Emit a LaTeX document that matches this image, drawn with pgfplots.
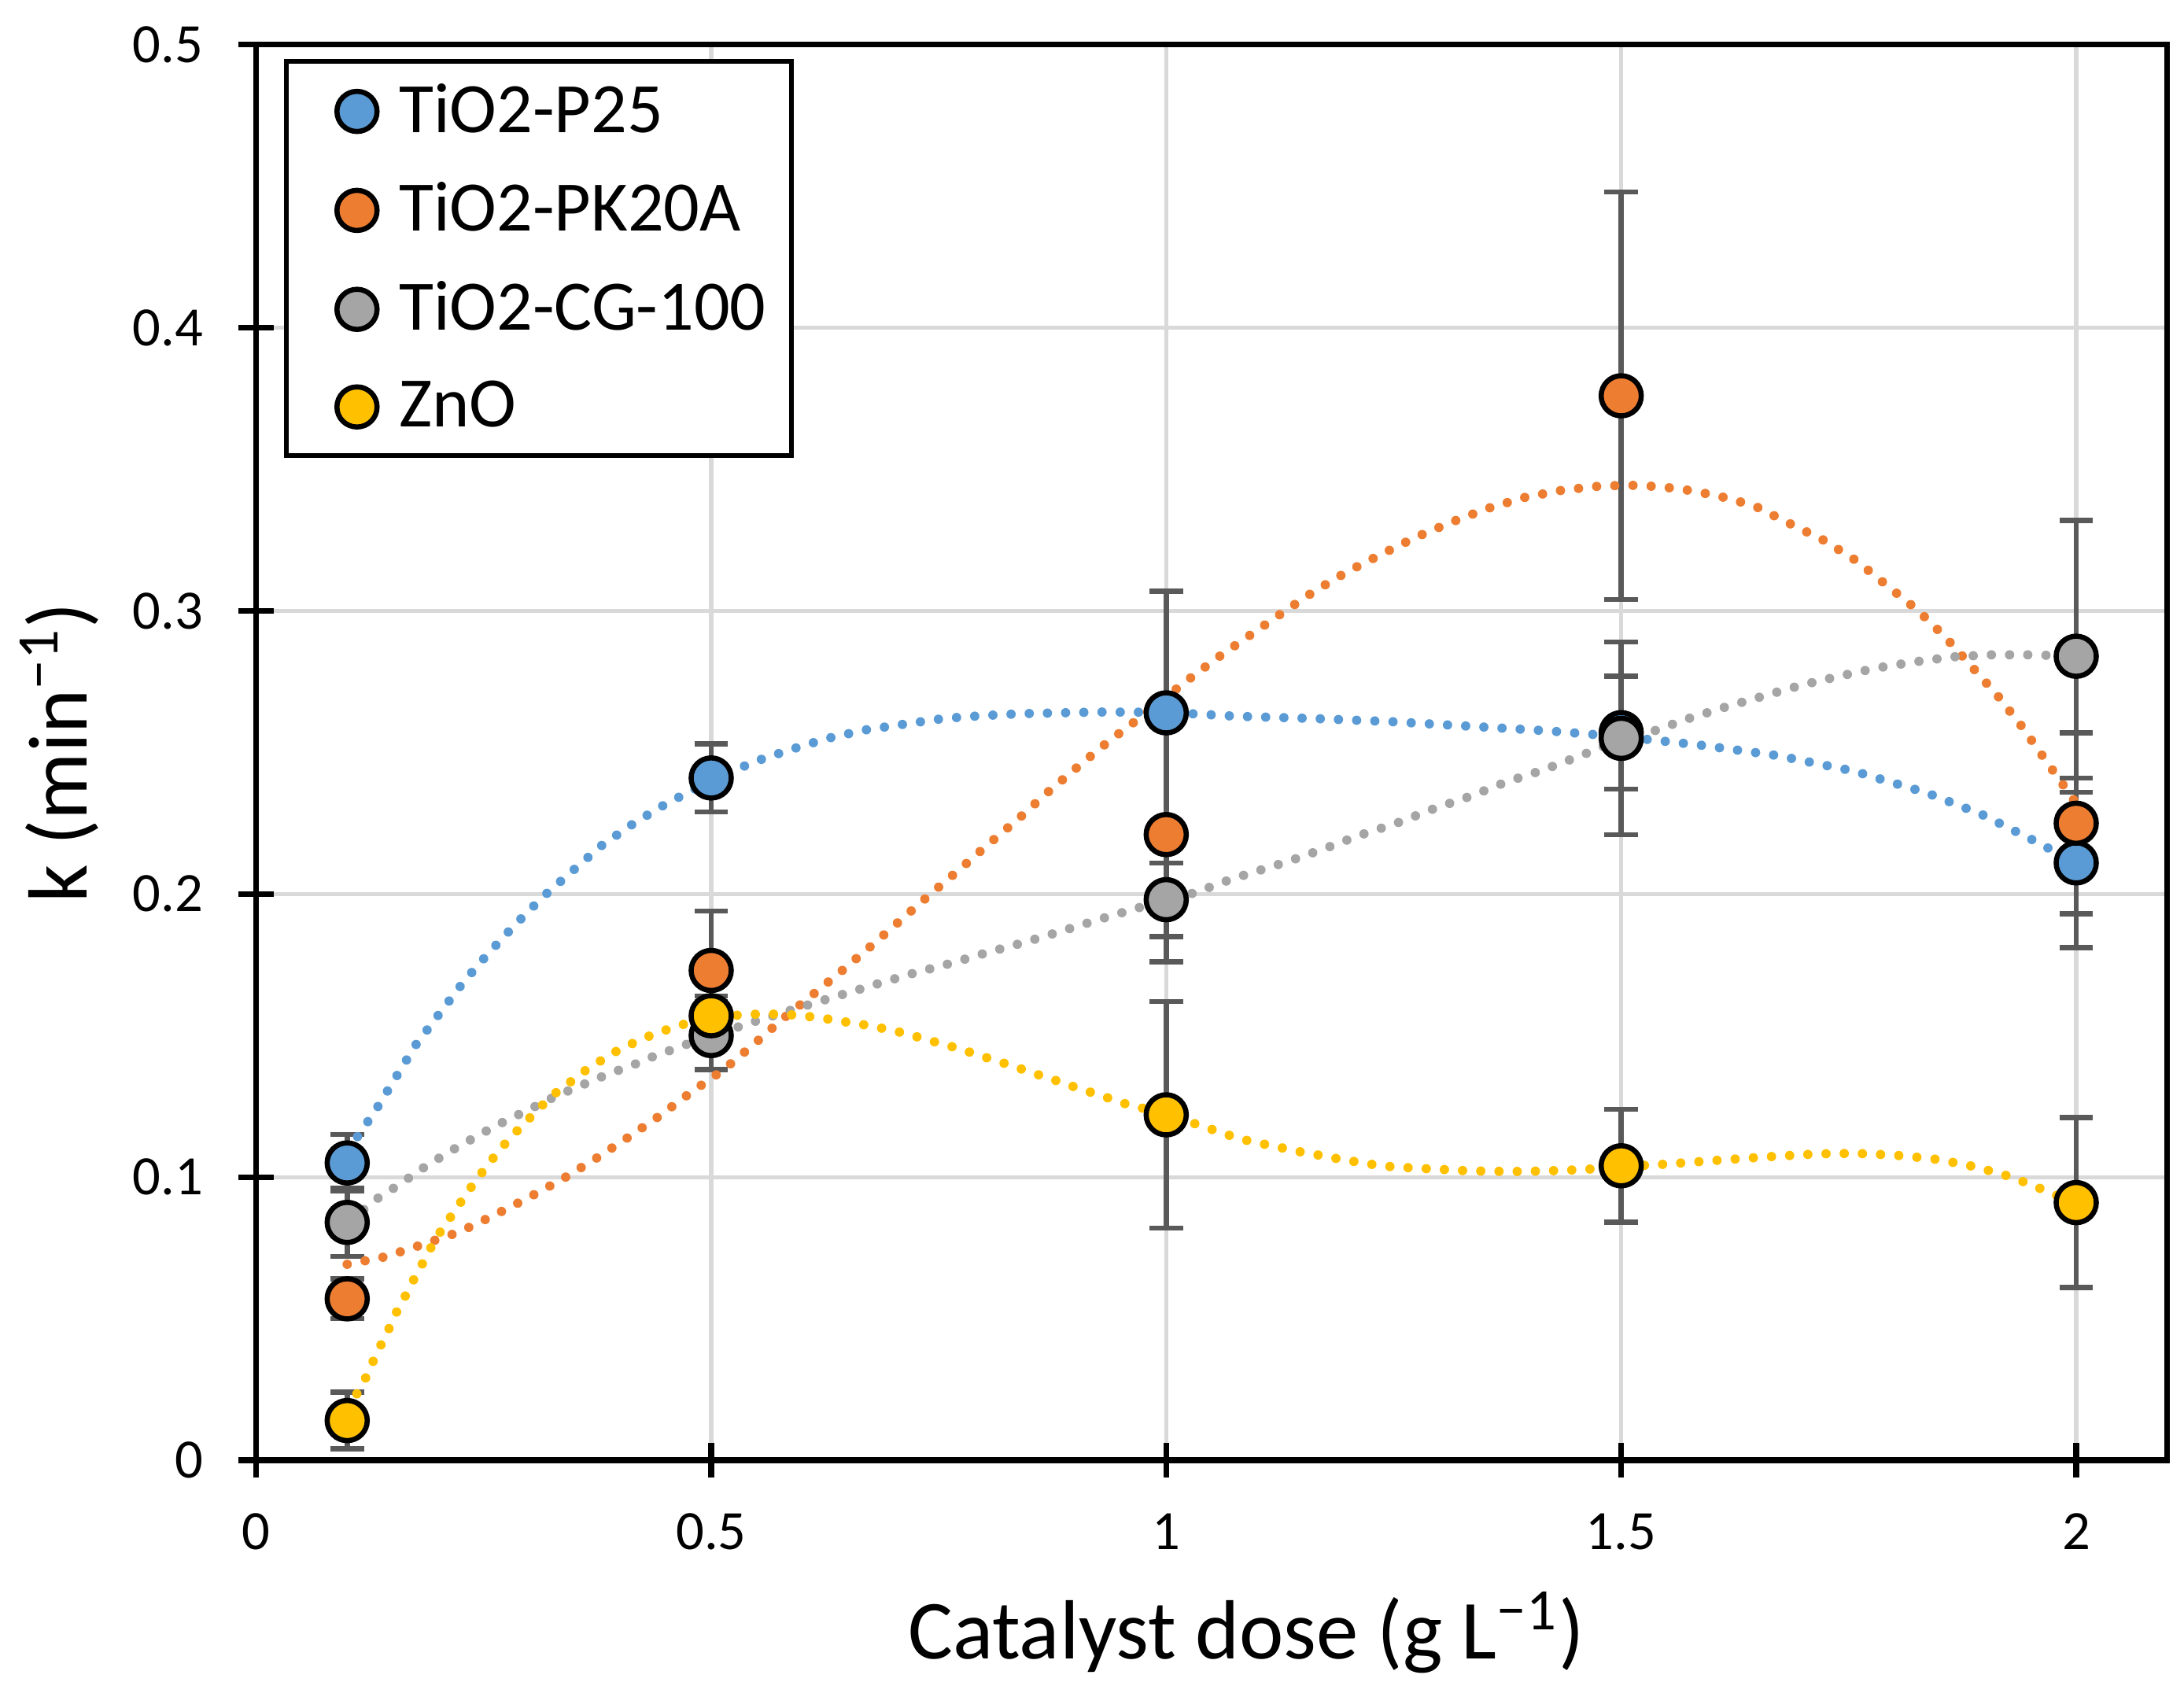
\documentclass[border=0pt]{standalone}
\usepackage{pgfplots}
\pgfplotsset{compat=1.18}
\usepackage{fontspec}
\setmainfont{Carlito}

\definecolor{cblue}{HTML}{5B9BD5}
\definecolor{corange}{HTML}{ED7D31}
\definecolor{cgray}{HTML}{A5A5A5}
\definecolor{cyellow}{HTML}{FFC000}
\definecolor{errgray}{HTML}{595959}
\definecolor{gridgray}{HTML}{D9D9D9}

\pgfplotsset{
  pt/.style={only marks, mark=*, mark size=4.3pt,
    mark options={draw=black, line width=1.1pt, fill=#1}},
  ebar/.style={only marks, mark=none, forget plot,
    error bars/.cd, y dir=both, y explicit,
    error bar style={line width=1.1pt, color=errgray},
    error mark options={rotate=90, line width=1.1pt, mark size=3.6pt, color=errgray}},
  trend/.style={forget plot, color=#1, line width=2pt, line cap=round,
    dash pattern=on 0pt off 3.9pt},
}

\begin{document}
\begin{tikzpicture}
\begin{axis}[
    name=ax, at={(0,0)}, anchor=south west,
    scale only axis, width=409.5pt, height=303.3pt,
    xmin=0, xmax=2.1, ymin=0, ymax=0.5,
    xtick={0,0.5,1,1.5,2}, ytick={0,0.1,0.2,0.3,0.4,0.5},
    xtick pos=bottom, ytick pos=left,
    /pgf/number format/assume math mode=true,
    /pgf/number format/fixed,
    ticklabel style={font=\fontsize{11.9}{14}\selectfont},
    xticklabel style={yshift=-4.2pt},
    yticklabel style={xshift=-4.1pt},
    tick align=center, major tick length=7.5pt,
    tick style={black, line width=1.2pt},
    axis line style={black, line width=1.2pt},
    grid=major, grid style={gridgray, line width=0.9pt},
    xlabel={Catalyst dose (g L\textsuperscript{−1})},
    ylabel={k (min\textsuperscript{−1})},
    label style={font=\fontsize{18}{21}\selectfont},
    xlabel style={at={(rel axis cs:0.518,0)}, anchor=base, yshift=-42.6pt},
    ylabel style={at={(rel axis cs:0,0.5)}, anchor=base, yshift=36.3pt},
    legend style={at={(rel axis cs:0,1)}, anchor=north west,
      xshift=6pt, yshift=-3pt, draw=black, line width=1pt,
      font=\fontsize{15.2}{18}\selectfont,
      inner xsep=5.5pt, inner ysep=3.8pt, row sep=7.25pt,
      nodes={inner xsep=0pt, inner ysep=1pt}},
    legend cell align=left,
    legend image code/.code={
      \path[draw=none, fill=none] (0pt,-6pt) rectangle (18.6pt,6pt);
      \draw[#1] plot coordinates {(9.6pt,0pt)};},
]

% error bars first, so the markers cover them
\addplot[ebar] coordinates {(0.1,0.105)+-(0,0.010) (0.5,0.241)+-(0,0.012) (1,0.264)+-(0,0.043) (1.5,0.257)+-(0,0.020) (2,0.211)+-(0,0.030)};
\addplot[ebar] coordinates {(0.1,0.057)+-(0,0.007) (0.5,0.173)+-(0,0.021) (1,0.221)+-(0,0.045) (1.5,0.376)+-(0,0.072) (2,0.225)+-(0,0.032)};
\addplot[ebar] coordinates {(0.1,0.084)+-(0,0.012) (0.5,0.150)+-(0,0.012) (1,0.198)+-(0,0.013) (1.5,0.255)+-(0,0.034) (2,0.284)+-(0,0.048)};
\addplot[ebar] coordinates {(0.1,0.014)+-(0,0.010) (0.5,0.157)+-(0,0.007) (1,0.122)+-(0,0.040) (1.5,0.104)+-(0,0.020) (2,0.091)+-(0,0.030)};

\addplot[pt=cblue] coordinates {(0.1,0.105) (0.5,0.241) (1,0.264) (1.5,0.257) (2,0.211)};
\addlegendentry{TiO2-P25}
\addplot[pt=corange] coordinates {(0.1,0.057) (0.5,0.173) (1,0.221) (1.5,0.376) (2,0.225)};
\addlegendentry{TiO2-PK20A}
\addplot[pt=cgray] coordinates {(0.1,0.084) (0.5,0.150) (1,0.198) (1.5,0.255) (2,0.284)};
\addlegendentry{TiO2-CG-100}
\addplot[pt=cyellow] coordinates {(0.1,0.014) (0.5,0.157) (1,0.122) (1.5,0.104) (2,0.091)};
\addlegendentry{ZnO}

% trendlines
\addplot[trend=cblue] coordinates {
(0.1,0.109)(0.131,0.1235)(0.153,0.135)(0.176,0.147)(0.202,0.158)(0.228,0.169)(0.255,0.179)(0.284,0.189)(0.315,0.199)(0.347,0.208)(0.379,0.217)(0.415,0.225)(0.451,0.232)(0.5,0.240)(0.547,0.2467)(0.587,0.251)(0.628,0.255)(0.670,0.258)(0.712,0.260)(0.755,0.262)(0.797,0.263)(0.840,0.2637)(0.883,0.264)(0.925,0.2643)(1.0,0.2642)(1.077,0.2628)(1.162,0.262)(1.247,0.2609)(1.332,0.2593)(1.417,0.2577)(1.5,0.2556)(1.587,0.2526)(1.672,0.2489)(1.756,0.2434)(1.837,0.2356)(1.897,0.228)(1.954,0.2188)(2.0,0.211)};
\addplot[trend=corange] coordinates {
(0.1,0.0692)(0.141,0.0718)(0.181,0.076)(0.223,0.0806)(0.260,0.0863)(0.299,0.0927)(0.336,0.0992)(0.373,0.1065)(0.409,0.1141)(0.444,0.1218)(0.478,0.130)(0.513,0.1378)(0.546,0.1467)(0.579,0.156)(0.611,0.1643)(0.644,0.173)(0.677,0.182)(0.709,0.191)(0.741,0.200)(0.774,0.209)(0.806,0.218)(0.838,0.2267)(0.870,0.236)(0.903,0.245)(0.937,0.254)(0.970,0.262)(1.0205,0.2748)(1.056,0.2834)(1.091,0.2912)(1.127,0.2992)(1.162,0.3068)(1.198,0.3137)(1.235,0.3198)(1.274,0.326)(1.313,0.3313)(1.353,0.3362)(1.394,0.3401)(1.436,0.3427)(1.479,0.3442)(1.521,0.3444)(1.564,0.3432)(1.606,0.3407)(1.646,0.3372)(1.685,0.3309)(1.723,0.3249)(1.759,0.3176)(1.792,0.309)(1.826,0.3002)(1.856,0.2908)(1.885,0.2804)(1.913,0.2703)(1.940,0.2593)(1.964,0.2483)(1.989,0.237)(2.0,0.232)};
\addplot[trend=cgray] coordinates {
(0.1,0.086)(0.117,0.0882)(0.133,0.0924)(0.152,0.0963)(0.169,0.100)(0.187,0.104)(0.205,0.1075)(0.223,0.111)(0.242,0.1143)(0.260,0.1176)(0.280,0.1208)(0.299,0.1237)(0.318,0.1269)(0.338,0.1298)(0.358,0.1325)(0.377,0.1351)(0.397,0.1376)(0.417,0.140)(0.437,0.1427)(0.457,0.145)(0.478,0.1475)(0.5,0.1496)(0.538,0.154)(0.558,0.156)(0.598,0.160)(0.639,0.164)(0.680,0.168)(0.722,0.172)(0.763,0.1755)(0.804,0.1794)(0.845,0.183)(0.886,0.187)(0.926,0.191)(0.947,0.193)(1.0,0.198)(1.031,0.2004)(1.072,0.2053)(1.132,0.2113)(1.172,0.2158)(1.212,0.2207)(1.253,0.225)(1.293,0.230)(1.333,0.2344)(1.373,0.2395)(1.414,0.2438)(1.454,0.2487)(1.5,0.2546)(1.535,0.2575)(1.574,0.262)(1.615,0.2661)(1.657,0.270)(1.698,0.2738)(1.739,0.2769)(1.780,0.2798)(1.822,0.282)(1.865,0.2838)(1.907,0.2845)(1.950,0.2845)(2.0,0.284)};
\addplot[trend=cyellow] coordinates {
(0.1,0.018)(0.117,0.0267)(0.125,0.0325)(0.134,0.0388)(0.144,0.0451)(0.153,0.0516)(0.163,0.0575)(0.173,0.0637)(0.183,0.0696)(0.193,0.0757)(0.204,0.0816)(0.216,0.087)(0.228,0.0927)(0.241,0.0986)(0.254,0.1041)(0.267,0.1094)(0.281,0.1145)(0.296,0.1194)(0.311,0.1243)(0.326,0.129)(0.344,0.1333)(0.361,0.1375)(0.379,0.1412)(0.397,0.1447)(0.416,0.1476)(0.436,0.1504)(0.457,0.1527)(0.477,0.1547)(0.5,0.156)(0.521,0.157)(0.541,0.1575)(0.561,0.1576)(0.582,0.1575)(0.603,0.1569)(0.625,0.156)(0.646,0.1549)(0.668,0.1538)(0.689,0.1525)(0.710,0.151)(0.730,0.1492)(0.751,0.1473)(0.771,0.1455)(0.792,0.1433)(0.812,0.1412)(0.832,0.1392)(0.852,0.1369)(0.872,0.1349)(0.893,0.1325)(0.913,0.1304)(0.934,0.1282)(0.954,0.126)(1.0,0.1222)(1.035,0.1185)(1.058,0.116)(1.079,0.1137)(1.100,0.1121)(1.121,0.1108)(1.141,0.1093)(1.162,0.1081)(1.183,0.1068)(1.205,0.1056)(1.226,0.1045)(1.247,0.1037)(1.268,0.1033)(1.290,0.1029)(1.311,0.1026)(1.332,0.1022)(1.353,0.1021)(1.375,0.102)(1.396,0.102)(1.417,0.1022)(1.438,0.1024)(1.46,0.1027)(1.5,0.1037)(1.545,0.1045)(1.587,0.1055)(1.630,0.1065)(1.672,0.1074)(1.715,0.1082)(1.757,0.1084)(1.799,0.1078)(1.842,0.1065)(1.863,0.1053)(1.885,0.1039)(1.904,0.1023)(1.925,0.1004)(1.945,0.098)(1.964,0.0955)(1.984,0.0928)(2.0,0.091)};

\end{axis}
% page frame: the reference's margins round the plot area
\path (-54.9pt,-50.7pt) rectangle (413.1pt,312.9pt);
\end{tikzpicture}
\end{document}
